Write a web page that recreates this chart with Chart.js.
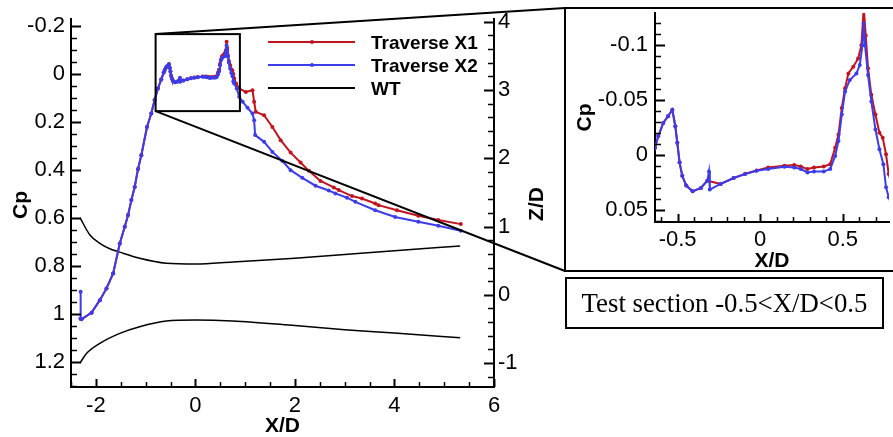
<!DOCTYPE html>
<html>
<head>
<meta charset="utf-8">
<script src="https://cdn.jsdelivr.net/npm/chart.js@4.4.1/dist/chart.umd.min.js"></script>
<style>
  html, body { margin: 0; padding: 0; background: #fff; }
  #wrap { position: relative; width: 893px; height: 437px; overflow: hidden; }
  #main { position: absolute; left: 0; top: 0; }
  #frame { position: absolute; left: 564px; top: 7px; width: 400px; height: 265px; border: 2px solid #000; box-sizing: border-box; }
  #inset { position: absolute; left: 566px; top: 9px; }
  #note { position: absolute; left: 565px; top: 277px; width: 319px; height: 52px; border: 2px solid #000; box-sizing: border-box;
          font: 26.8px "Liberation Serif", "Times New Roman", serif; display: flex; align-items: center; justify-content: center; }
</style>
</head>
<body>
<div id="wrap">
  <canvas id="main" width="893" height="437"></canvas>
  <div id="frame"></div>
  <canvas id="inset" width="327" height="260"></canvas>
  <div id="note">Test section -0.5&lt;X/D&lt;0.5</div>
</div>
<script>
// Traverse X1 (red)
const X1_X = [-2.31, -2.29, -2.086, -1.92, -1.787, -1.653, -1.52, -1.42, -1.353, -1.287, -1.22, -1.153, -1.087, -0.973, -0.887, -0.82, -0.753, -0.687,
  -0.637, -0.617, -0.587, -0.558, -0.532, -0.514, -0.502, -0.488, -0.472, -0.448, -0.409, -0.359, -0.32, -0.24, -0.161, -0.091, -0.022,
  0.048, 0.147, 0.206, 0.246, 0.286, 0.326, 0.385, 0.424, 0.454, 0.474, 0.494, 0.514, 0.534, 0.564, 0.593, 0.613, 0.627, 0.639, 0.653,
  0.673, 0.698, 0.722, 0.742, 0.762, 0.778, 0.82, 0.88, 1.013, 1.147, 1.18, 1.213, 1.38, 1.547, 1.713, 1.913, 2.113, 2.28, 2.513, 2.78,
  2.88, 3.147, 3.347, 3.613, 3.68, 4.05, 4.48, 4.88, 5.333];
const X1_CP = [1.02, 1.022, 0.994, 0.942, 0.893, 0.831, 0.706, 0.636, 0.5875, 0.525, 0.47, 0.395, 0.338, 0.22, 0.164, 0.108, 0.06, 0.022,
  -0.0066, -0.0172, -0.0292, -0.0353, -0.041, -0.0262, -0.0111, 0.007, 0.019, 0.028, 0.0332, 0.0301, 0.0235, 0.0265, 0.0211, 0.0172, 0.0142,
  0.0115, 0.0099, 0.0093, 0.0106, 0.0129, 0.0115, 0.0106, 0.0084, -0.0066, -0.0187, -0.0428, -0.0609, -0.0744, -0.0805, -0.088, -0.1, -0.135, -0.109, -0.079,
  -0.0549, -0.0368, -0.0202, -0.0157, -0.0006, 0.0175, 0.04, 0.06, 0.074, 0.067, 0.115, 0.157, 0.171, 0.22, 0.275, 0.327, 0.368, 0.403, 0.445, 0.472,
  0.483, 0.508, 0.518, 0.539, 0.546, 0.567, 0.59, 0.608, 0.625];

// Traverse X2 (blue)
const X2_X = [-2.306, -2.306, -2.29, -2.086, -1.92, -1.787, -1.653, -1.52, -1.42, -1.353, -1.287, -1.22, -1.153, -1.087, -0.973, -0.887, -0.82, -0.753, -0.687,
  -0.637, -0.617, -0.587, -0.558, -0.532, -0.514, -0.502, -0.488, -0.472, -0.448, -0.409, -0.359, -0.32, -0.31, -0.305, -0.24, -0.161, -0.091, -0.022,
  0.048, 0.147, 0.206, 0.246, 0.286, 0.326, 0.385, 0.424, 0.454, 0.474, 0.494, 0.514, 0.543, 0.583, 0.603, 0.619, 0.627, 0.635, 0.653,
  0.673, 0.698, 0.722, 0.746, 0.762, 0.778, 0.83, 0.88, 0.95, 1.047, 1.147, 1.18, 1.2, 1.38, 1.547, 1.747, 1.913, 2.147, 2.413, 2.68,
  2.813, 3.047, 3.213, 3.613, 4.013, 4.48, 4.88, 5.333];
const X2_CP = [0.907, 1.018, 1.022, 0.994, 0.942, 0.893, 0.831, 0.706, 0.636, 0.5875, 0.525, 0.47, 0.395, 0.338, 0.22, 0.164, 0.108, 0.06, 0.022,
  -0.0066, -0.0172, -0.0292, -0.0353, -0.0413, -0.0262, -0.0111, 0.007, 0.019, 0.028, 0.0332, 0.0301, 0.0235, 0.0151, 0.0316, 0.0265, 0.0211, 0.0175, 0.0145,
  0.0129, 0.0108, 0.0115, 0.0129, 0.016, 0.0151, 0.0151, 0.0129, 0.0009, -0.0127, -0.0368, -0.0579, -0.0684, -0.0744, -0.082, -0.1, -0.12, -0.1, -0.073,
  -0.0488, -0.0232, -0.0052, 0.0084, 0.0296, 0.0386, 0.06, 0.094, 0.115, 0.14, 0.164, 0.192, 0.254, 0.282, 0.324, 0.362, 0.4, 0.432, 0.465, 0.485,
  0.497, 0.515, 0.532, 0.567, 0.595, 0.615, 0.632, 0.653];

// wind tunnel walls, right axis Z/D
const WT_UPPER_X = [-2.32, -2.12, -1.92, -1.72, -1.52, -1.12, -0.587, 0, 0.75, 2.0, 3.0, 4.0, 5.32];
const WT_UPPER_Z = [1.13, 0.877, 0.755, 0.675, 0.625, 0.535, 0.462, 0.45, 0.48, 0.535, 0.59, 0.645, 0.716];
const WT_LOWER_X = [-2.32, -2.19, -1.92, -1.52, -1.12, -0.587, 0, 0.747, 2.0, 3.0, 4.0, 5.32];
const WT_LOWER_Z = [-1.0, -0.86, -0.711, -0.565, -0.468, -0.385, -0.37, -0.384, -0.45, -0.51, -0.56, -0.63];

// tick labels
const X_TICKS = [-2, 0, 2, 4, 6];
const CP_TICKS = [-0.2, 0, 0.2, 0.4, 0.6, 0.8, 1, 1.2];
const Z_TICKS = [-1, 0, 1, 2, 3, 4];
const INSET_X_TICKS = [-0.5, 0, 0.5];
const INSET_CP_TICKS = [-0.1, -0.05, 0, 0.05];

// zoomed window drawn on the main plot
const ZOOM_X = [-0.8, 0.894];
const ZOOM_CP = [-0.167, 0.154];

const RED = '#c0141e';
const BLUE = '#3c3ceb';
const FONT = '"Liberation Sans", Arial, sans-serif';
const TITLE_FONT = 'bold 21px ' + FONT;

Chart.defaults.font.family = FONT;
Chart.defaults.color = '#000';

const pts = (xs, ys) => xs.map((x, i) => ({ x: x, y: ys[i] }));

function fixSize(prop, size) {
    return scale => {
        scale[prop] = size;
        scale.paddingTop = 0; scale.paddingBottom = 0;
        scale.paddingLeft = 0; scale.paddingRight = 0;
    };
}

function axis(position, min, max, ticks, sizeProp, size, padding, extra) {
    return Object.assign({
        type: 'linear', position: position, min: min, max: max,
        grid: { display: false, drawTicks: false },
        border: { display: true, color: '#000', width: 2 },
        ticks: { font: { size: 22 }, padding: padding, autoSkip: false, maxRotation: 0, callback: v => String(v) },
        afterBuildTicks: scale => { scale.ticks = ticks.map(v => ({ value: v })); },
        afterFit: fixSize(sizeProp, size)
    }, extra || {});
}

// inward tick marks, major + minor
function inwardTicks(ctx, scale, majors, step, majLen, minLen) {
    const lo = Math.min(scale.min, scale.max), hi = Math.max(scale.min, scale.max);
    for (let k = Math.ceil(lo / step - 1e-9); k * step <= hi + 1e-9; k++) {
        const v = k * step;
        const major = majors.some(m => Math.abs(m - v) < step / 10);
        const len = major ? majLen : minLen;
        const p = Math.round(scale.getPixelForValue(v)) + 0.5;
        ctx.lineWidth = major ? 2 : 1.5;
        ctx.beginPath();
        if (scale.position === 'bottom') { ctx.moveTo(p, scale.top); ctx.lineTo(p, scale.top - len); }
        else if (scale.position === 'left') { ctx.moveTo(scale.right, p); ctx.lineTo(scale.right + len, p); }
        else { ctx.moveTo(scale.left, p); ctx.lineTo(scale.left - len, p); }
        ctx.stroke();
    }
}

function vText(ctx, text, x, y, font) {
    ctx.save();
    ctx.translate(x, y);
    ctx.rotate(-Math.PI / 2);
    ctx.font = font;
    ctx.textAlign = 'center';
    ctx.textBaseline = 'alphabetic';
    ctx.fillText(text, 0, 0);
    ctx.restore();
}

const mainDecor = {
    id: 'mainDecor',
    afterDraw(chart) {
        const ctx = chart.ctx;
        const { x, y, z } = chart.scales;
        ctx.save();
        ctx.strokeStyle = '#000';
        ctx.fillStyle = '#000';
        inwardTicks(ctx, x, X_TICKS, 0.5, 8, 5);
        inwardTicks(ctx, y, CP_TICKS, 0.05, 10, 6);
        inwardTicks(ctx, z, Z_TICKS, 0.2, 10, 6);

        // zoom window and connectors to the inset frame
        const bx0 = x.getPixelForValue(ZOOM_X[0]), bx1 = x.getPixelForValue(ZOOM_X[1]);
        const by0 = y.getPixelForValue(ZOOM_CP[0]), by1 = y.getPixelForValue(ZOOM_CP[1]);
        ctx.lineWidth = 2;
        ctx.strokeRect(bx0, by0, bx1 - bx0, by1 - by0);
        const frame = document.getElementById('frame');
        const fx = frame.offsetLeft + 1;
        const fyTop = frame.offsetTop + 1;
        const fyBot = frame.offsetTop + frame.offsetHeight - 1;
        ctx.beginPath();
        ctx.moveTo(bx0, by0); ctx.lineTo(fx, fyTop);
        ctx.moveTo(bx0, by1); ctx.lineTo(fx, fyBot);
        ctx.stroke();

        // legend
        const rows = [
            { label: 'Traverse X1', color: RED, marker: true },
            { label: 'Traverse X2', color: BLUE, marker: true },
            { label: 'WT', color: '#000', marker: false }
        ];
        ctx.font = 'bold 19px ' + FONT;
        ctx.textAlign = 'left';
        ctx.textBaseline = 'alphabetic';
        rows.forEach((r, i) => {
            const ly = 42 + i * 23;
            ctx.strokeStyle = r.color;
            ctx.lineWidth = 2;
            ctx.beginPath(); ctx.moveTo(268, ly); ctx.lineTo(355, ly); ctx.stroke();
            if (r.marker) {
                ctx.fillStyle = r.color;
                ctx.beginPath(); ctx.arc(312, ly, 2, 0, Math.PI * 2); ctx.fill();
            }
            ctx.fillStyle = '#000';
            ctx.fillText(r.label, 371, ly + 7);
        });

        // axis titles
        ctx.font = TITLE_FONT;
        ctx.textAlign = 'center';
        ctx.fillText('X/D', (x.left + x.right) / 2, 432);
        const midY = (chart.chartArea.top + chart.chartArea.bottom) / 2;
        vText(ctx, 'Cp', 27, midY + 2, TITLE_FONT);
        vText(ctx, 'Z/D', 543, midY + 1, TITLE_FONT);
        ctx.restore();
    }
};

const insetDecor = {
    id: 'insetDecor',
    afterDraw(chart) {
        const ctx = chart.ctx;
        const { x, y } = chart.scales;
        ctx.save();
        ctx.strokeStyle = '#000';
        ctx.fillStyle = '#000';
        inwardTicks(ctx, x, INSET_X_TICKS, 0.1, 8, 5);
        inwardTicks(ctx, y, INSET_CP_TICKS, 0.01, 10, 6);
        ctx.font = TITLE_FONT;
        ctx.textAlign = 'center';
        ctx.fillText('X/D', (x.left + x.right) / 2, 258);
        vText(ctx, 'Cp', 25, (chart.chartArea.top + chart.chartArea.bottom) / 2, TITLE_FONT);
        ctx.restore();
    }
};

function traverseSets(yId) {
    return [
        { label: 'Traverse X2', data: pts(X2_X, X2_CP), borderColor: BLUE, backgroundColor: BLUE, borderWidth: 2,
          pointRadius: 2, pointBorderWidth: 0, yAxisID: yId, order: 0 },
        { label: 'Traverse X1', data: pts(X1_X, X1_CP), borderColor: RED, backgroundColor: RED, borderWidth: 2,
          pointRadius: 2, pointBorderWidth: 0, yAxisID: yId, order: 1 }
    ];
}

const common = {
    responsive: false,
    animation: false,
    plugins: { legend: { display: false }, tooltip: { enabled: false }, title: { display: false } },
    events: []
};

new Chart(document.getElementById('main'), {
    type: 'line',
    data: {
        datasets: traverseSets('y').concat([
            { label: 'WT', data: pts(WT_UPPER_X, WT_UPPER_Z), borderColor: '#000', borderWidth: 1.5, pointRadius: 0,
              cubicInterpolationMode: 'monotone', yAxisID: 'z', order: 2 },
            { label: 'WT lower', data: pts(WT_LOWER_X, WT_LOWER_Z), borderColor: '#000', borderWidth: 1.5, pointRadius: 0,
              cubicInterpolationMode: 'monotone', yAxisID: 'z', order: 2 }
        ])
    },
    options: Object.assign({}, common, {
        layout: { padding: { top: 19, right: 339, left: 0, bottom: 0 } },
        scales: {
            x: axis('bottom', -2.5, 6, X_TICKS, 'height', 50, 6),
            y: axis('left', -0.23, 1.304, CP_TICKS, 'width', 71, 6, { reverse: true }),
            z: axis('right', -1.35, 4.04, Z_TICKS, 'width', 60, 4)
        }
    }),
    plugins: [mainDecor]
});

new Chart(document.getElementById('inset'), {
    type: 'line',
    data: { datasets: traverseSets('y') },
    options: Object.assign({}, common, {
        layout: { padding: { top: 2, right: 0, left: 0, bottom: 0 } },
        scales: {
            x: axis('bottom', -0.637, 0.78, INSET_X_TICKS, 'height', 47, 5),
            y: axis('left', -0.1295, 0.0612, INSET_CP_TICKS, 'width', 89, 7, { reverse: true })
        }
    }),
    plugins: [insetDecor]
});
</script>
</body>
</html>
